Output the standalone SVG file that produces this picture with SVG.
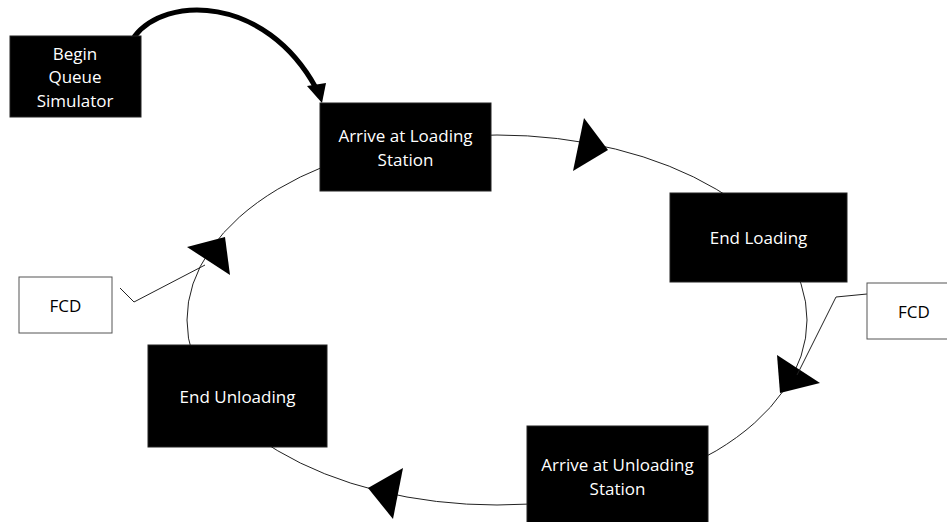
<svg xmlns="http://www.w3.org/2000/svg" width="947" height="522" viewBox="0 0 947 522">
<style>
.blk{fill:#000;stroke:#222;stroke-width:1}
.wht{fill:#fff;stroke:#555;stroke-width:1}
.tw{fill:#fff;font-family:"Open Sans","Liberation Sans",sans-serif;font-size:17px;text-anchor:middle}
.tb{fill:#000;font-family:"Open Sans","Liberation Sans",sans-serif;font-size:17px;text-anchor:middle}
.ln{fill:none;stroke:#222;stroke-width:1}
.head{fill:#000;stroke:none}
</style>
<rect width="947" height="522" fill="#fff"/>
<g id="connectors">
  <ellipse class="ln" cx="497" cy="320" rx="310" ry="185"/>
  <polygon class="head" points="584,118 608,150 573,171"/>
  <polygon class="head" points="777,355 820,383 780,393"/>
  <polygon class="head" points="403,468 368,488 393,519"/>
  <polygon class="head" points="187,247 225,237 230,275"/>
  <polyline class="ln" points="867,294 836,297 797,375"/>
  <polyline class="ln" points="120,288 134,302 205,265"/>
  <path d="M134,37 C165,-5 265,-5 316,88" fill="none" stroke="#000" stroke-width="5"/>
  <polygon class="head" points="307,86 326,83 322,103"/>
</g>
<g id="begin">
  <rect class="blk" x="10" y="36" width="131" height="81"/>
  <text class="tw" x="75" y="60">Begin</text>
  <text class="tw" x="75" y="83">Queue</text>
  <text class="tw" x="75" y="107">Simulator</text>
</g>
<g id="arrive-loading">
  <rect class="blk" x="320" y="103" width="171" height="88"/>
  <text class="tw" x="405.5" y="142">Arrive at Loading</text>
  <text class="tw" x="405.5" y="166">Station</text>
</g>
<g id="end-loading">
  <rect class="blk" x="670" y="193" width="177" height="89"/>
  <text class="tw" x="758.5" y="244">End Loading</text>
</g>
<g id="fcd-right">
  <rect class="wht" x="867" y="283" width="94" height="56"/>
  <text class="tb" x="914" y="318">FCD</text>
</g>
<g id="arrive-unloading">
  <rect class="blk" x="527" y="426" width="181" height="100"/>
  <text class="tw" x="617.5" y="471">Arrive at Unloading</text>
  <text class="tw" x="617.5" y="495">Station</text>
</g>
<g id="end-unloading">
  <rect class="blk" x="148" y="345" width="179" height="102"/>
  <text class="tw" x="237.5" y="403">End Unloading</text>
</g>
<g id="fcd-left">
  <rect class="wht" x="19" y="277" width="93" height="56"/>
  <text class="tb" x="65.5" y="312">FCD</text>
</g>
</svg>
